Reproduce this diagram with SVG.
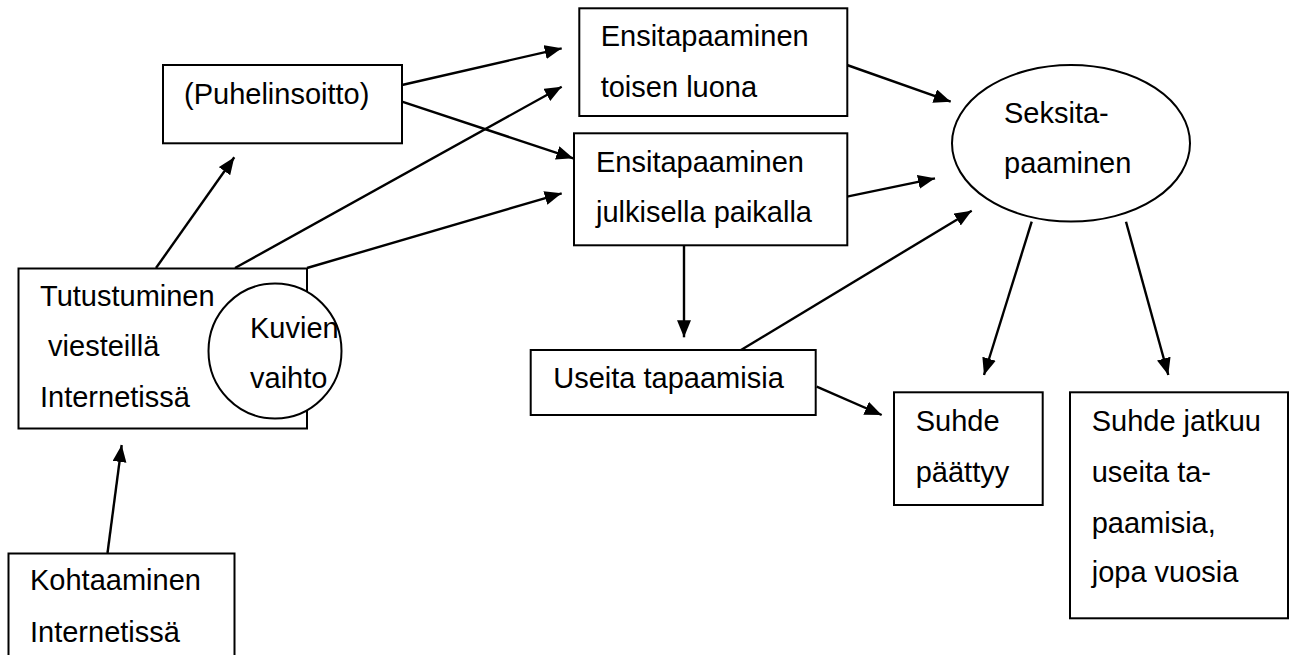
<svg xmlns="http://www.w3.org/2000/svg" width="1295" height="655" viewBox="0 0 1295 655">
<defs>
<marker id="arr" markerUnits="userSpaceOnUse" markerWidth="18" markerHeight="15" refX="17" refY="7" orient="auto">
<path d="M0,0 L17,7 L0,14 z" fill="#000"/>
</marker>
<style>
.box{fill:#fff;stroke:#000;stroke-width:2}
.t{font-family:"Liberation Sans",Arial,sans-serif;font-size:29px;fill:#000}
.c{stroke:#000;stroke-width:2.4;fill:none;marker-end:url(#arr)}
</style>
</defs>
<rect width="1295" height="655" fill="#fff"/>
<g id="connectors">
<line class="c" x1="107.5" y1="553" x2="121.7" y2="445"/>
<line class="c" x1="156" y1="268" x2="234.3" y2="157.3"/>
<line class="c" x1="235" y1="268" x2="561.7" y2="86.7"/>
<line class="c" x1="307" y1="268" x2="561.7" y2="193.3"/>
<line class="c" x1="402" y1="85" x2="561.7" y2="48.3"/>
<line class="c" x1="402" y1="101.7" x2="573.3" y2="158.3"/>
<line class="c" x1="847" y1="65" x2="950.7" y2="101.7"/>
<line class="c" x1="847" y1="196.7" x2="935" y2="178.3"/>
<line class="c" x1="684" y1="245" x2="684" y2="337.3"/>
<line class="c" x1="741" y1="350" x2="971.7" y2="210.7"/>
<line class="c" x1="816.7" y1="386.7" x2="881.7" y2="415"/>
<line class="c" x1="1031.7" y1="221.7" x2="984" y2="375"/>
<line class="c" x1="1126" y1="221.7" x2="1168.3" y2="375"/>
</g>
<g id="kohtaaminen">
<rect class="box" x="8.5" y="553.5" width="226" height="120"/>
<text class="t" x="30" y="590">Kohtaaminen</text>
<text class="t" x="30" y="641.7">Internetissä</text>
</g>
<g id="tutustuminen">
<rect class="box" x="18.5" y="268.5" width="288.5" height="160"/>
<text class="t" x="40" y="306">Tutustuminen</text>
<text class="t" x="40" y="356" xml:space="preserve"> viesteillä</text>
<text class="t" x="40" y="407">Internetissä</text>
</g>
<g id="kuvien">
<ellipse class="box" cx="275" cy="351" rx="66.5" ry="67.5"/>
<text class="t" x="250" y="338.3">Kuvien</text>
<text class="t" x="250" y="388.3">vaihto</text>
</g>
<g id="puhelinsoitto">
<rect class="box" x="163" y="65" width="239" height="78.3"/>
<text class="t" x="184" y="104">(Puhelinsoitto)</text>
</g>
<g id="toisen-luona">
<rect class="box" x="579.3" y="8.3" width="268" height="107.7"/>
<text class="t" x="600.7" y="46">Ensitapaaminen</text>
<text class="t" x="600.7" y="96.7">toisen luona</text>
</g>
<g id="julkisella">
<rect class="box" x="574" y="133.3" width="273.3" height="112"/>
<text class="t" x="596" y="171.7">Ensitapaaminen</text>
<text class="t" x="596" y="221.7">julkisella paikalla</text>
</g>
<g id="seksitapaaminen">
<ellipse class="box" cx="1071" cy="143.3" rx="119" ry="78.3"/>
<text class="t" x="1004" y="123.3">Seksita-</text>
<text class="t" x="1004" y="173.3">paaminen</text>
</g>
<g id="useita">
<rect class="box" x="530.7" y="350" width="285" height="65"/>
<text class="t" x="553.3" y="388.3">Useita tapaamisia</text>
</g>
<g id="suhde-paattyy">
<rect class="box" x="894" y="392.3" width="148.7" height="112.7"/>
<text class="t" x="915.7" y="431">Suhde</text>
<text class="t" x="915.7" y="481.7">päättyy</text>
</g>
<g id="suhde-jatkuu">
<rect class="box" x="1070" y="392.3" width="218" height="226"/>
<text class="t" x="1091.7" y="431">Suhde jatkuu</text>
<text class="t" x="1091.7" y="481.7">useita ta-</text>
<text class="t" x="1091.7" y="533.3">paamisia,</text>
<text class="t" x="1091.7" y="581.7">jopa vuosia</text>
</g>
</svg>
